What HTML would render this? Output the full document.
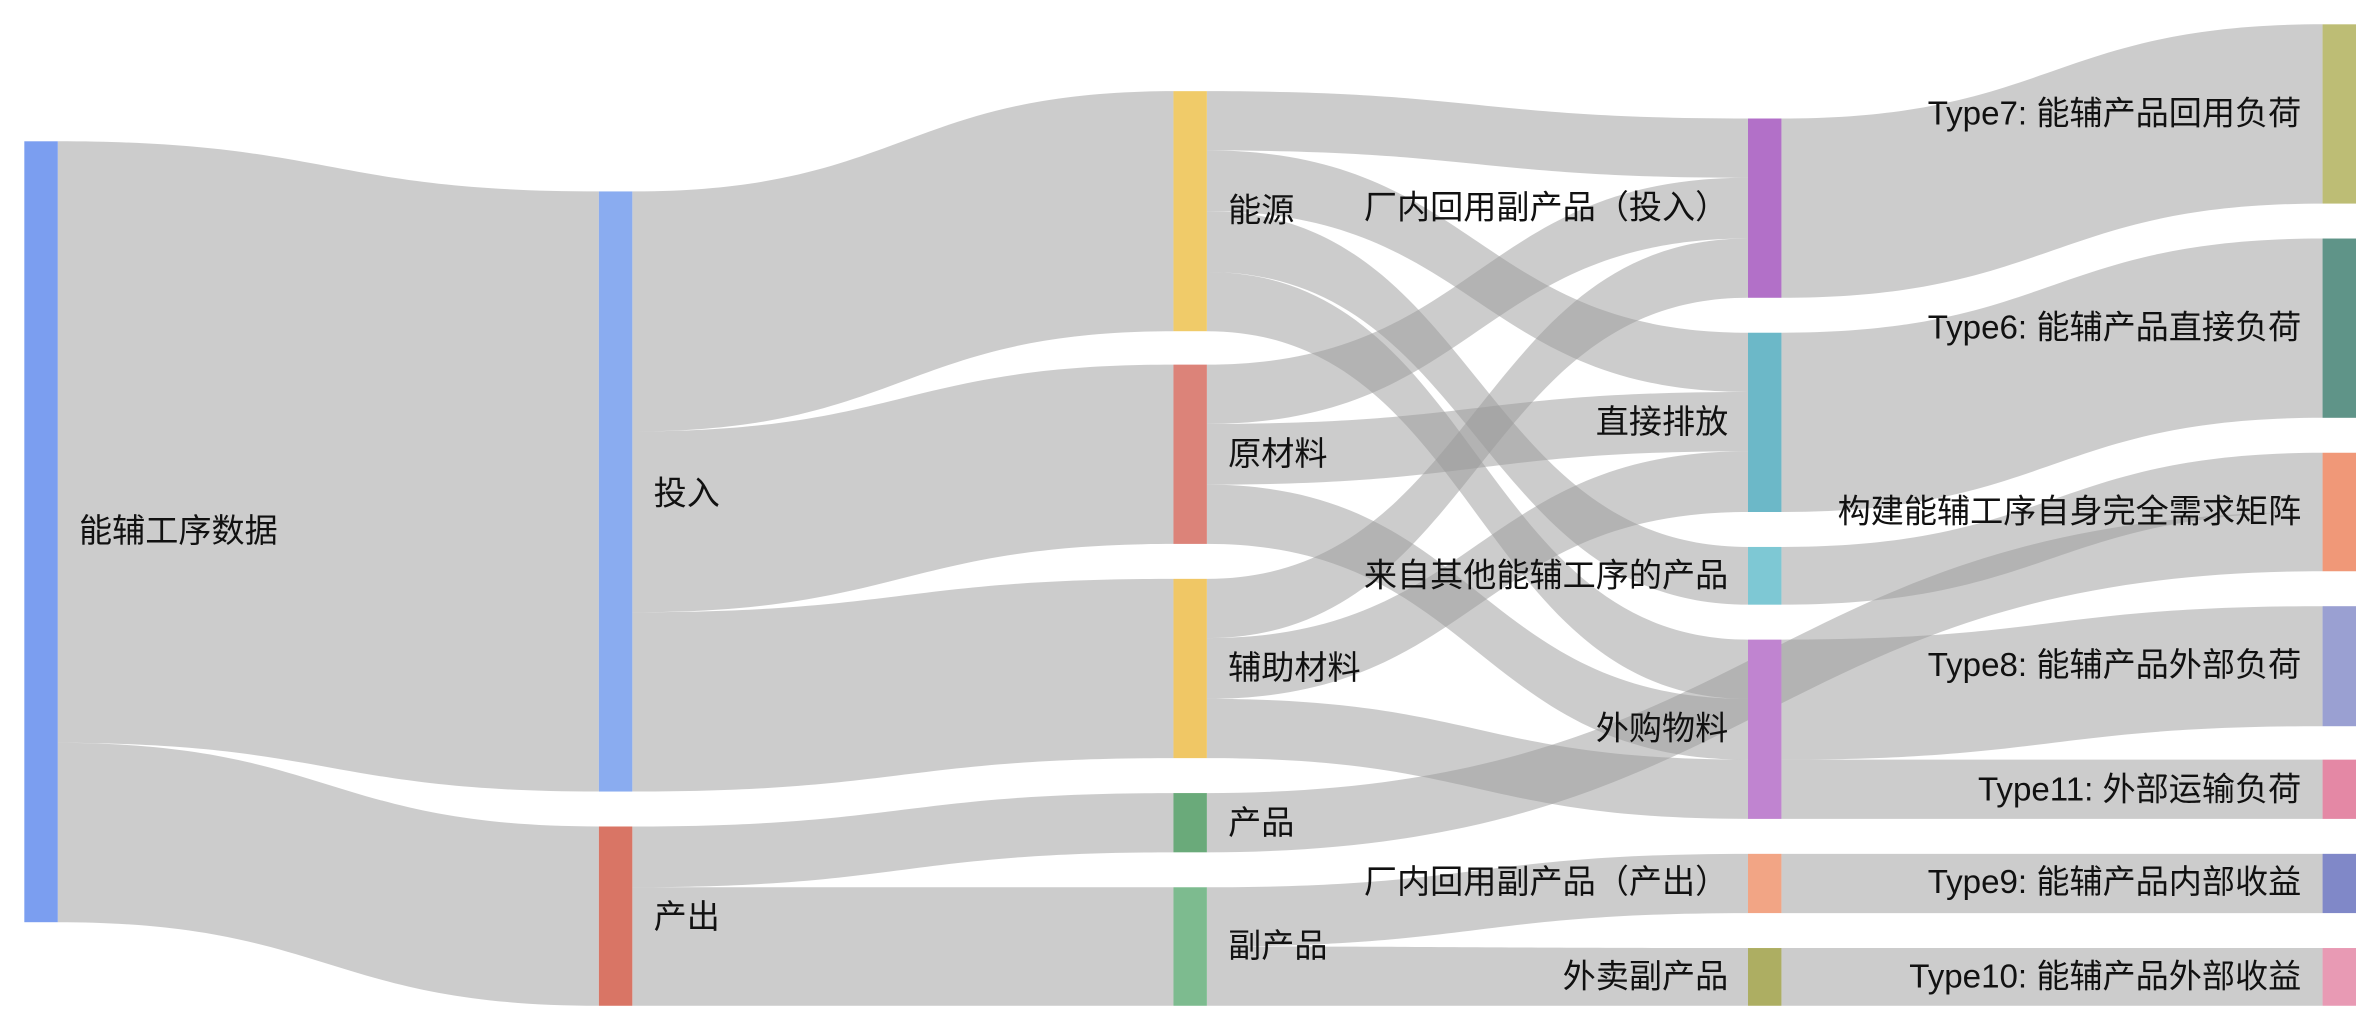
<!DOCTYPE html>
<html><head><meta charset="utf-8"><style>
html,body{margin:0;padding:0;background:#fff;}
svg{display:block;}
text{font-family:"Liberation Sans","Noto Sans CJK SC",sans-serif;font-size:21.8px;fill:#111;dominant-baseline:central;}
</style></head><body>
<svg width="2356" height="1024" viewBox="0 0 1550 674" preserveAspectRatio="none">
<g fill="#999" fill-opacity="0.5">
<path d="M38,93 C216,93 216,126 394,126 L394,521 C216,521 216,489 38,489Z"/>
<path d="M38,489 C216,489 216,544 394,544 L394,662 C216,662 216,607 38,607Z"/>
<path d="M416,126 C594,126 594,60 772,60 L772,218 C594,218 594,284 416,284Z"/>
<path d="M416,284 C594,284 594,240 772,240 L772,358 C594,358 594,403 416,403Z"/>
<path d="M416,403 C594,403 594,381 772,381 L772,499 C594,499 594,521 416,521Z"/>
<path d="M416,544 C594,544 594,522 772,522 L772,561 C594,561 594,584 416,584Z"/>
<path d="M416,584 C594,584 594,584 772,584 L772,662 C594,662 594,662 416,662Z"/>
<path d="M794,60 C972,60 972,78 1150,78 L1150,117 C972,117 972,99 794,99Z"/>
<path d="M794,99 C972,99 972,219 1150,219 L1150,258 C972,258 972,139 794,139Z"/>
<path d="M794,139 C972,139 972,360 1150,360 L1150,398 C972,398 972,179 794,179Z"/>
<path d="M794,179 C972,179 972,421 1150,421 L1150,460 C972,460 972,218 794,218Z"/>
<path d="M794,240 C972,240 972,117 1150,117 L1150,157 C972,157 972,279 794,279Z"/>
<path d="M794,279 C972,279 972,258 1150,258 L1150,297 C972,297 972,319 794,319Z"/>
<path d="M794,319 C972,319 972,460 1150,460 L1150,500 C972,500 972,358 794,358Z"/>
<path d="M794,381 C972,381 972,157 1150,157 L1150,196 C972,196 972,420 794,420Z"/>
<path d="M794,420 C972,420 972,297 1150,297 L1150,337 C972,337 972,460 794,460Z"/>
<path d="M794,460 C972,460 972,500 1150,500 L1150,539 C972,539 972,499 794,499Z"/>
<path d="M794,522 C1161,522 1161,337 1528,337 L1528,376 C1161,376 1161,561 794,561Z"/>
<path d="M794,584 C972,584 972,562 1150,562 L1150,601 C972,601 972,623 794,623Z"/>
<path d="M794,623 C972,623 972,624 1150,624 L1150,662 C972,662 972,662 794,662Z"/>
<path d="M1172,78 C1350,78 1350,16 1528,16 L1528,134 C1350,134 1350,196 1172,196Z"/>
<path d="M1172,219 C1350,219 1350,157 1528,157 L1528,275 C1350,275 1350,337 1172,337Z"/>
<path d="M1172,360 C1350,360 1350,298 1528,298 L1528,337 C1350,337 1350,398 1172,398Z"/>
<path d="M1172,421 C1350,421 1350,399 1528,399 L1528,478 C1350,478 1350,500 1172,500Z"/>
<path d="M1172,500 C1350,500 1350,500 1528,500 L1528,539 C1350,539 1350,539 1172,539Z"/>
<path d="M1172,562 C1350,562 1350,562 1528,562 L1528,601 C1350,601 1350,601 1172,601Z"/>
<path d="M1172,624 C1350,624 1350,624 1528,624 L1528,662 C1350,662 1350,662 1172,662Z"/>
</g>
<g>
<rect x="16" y="93" width="22" height="514" fill="#7b9ef0"/>
<rect x="394" y="126" width="22" height="395" fill="#8aacf0"/>
<rect x="394" y="544" width="22" height="118" fill="#d97565"/>
<rect x="772" y="60" width="22" height="158" fill="#f0cb69"/>
<rect x="772" y="240" width="22" height="118" fill="#dc8379"/>
<rect x="772" y="381" width="22" height="118" fill="#f0c765"/>
<rect x="772" y="522" width="22" height="39" fill="#6aaa7a"/>
<rect x="772" y="584" width="22" height="78" fill="#7dbb8f"/>
<rect x="1150" y="78" width="22" height="118" fill="#b270c8"/>
<rect x="1150" y="219" width="22" height="118" fill="#6cb8c8"/>
<rect x="1150" y="360" width="22" height="38" fill="#7ec8d4"/>
<rect x="1150" y="421" width="22" height="118" fill="#c084d0"/>
<rect x="1150" y="562" width="22" height="39" fill="#f2a585"/>
<rect x="1150" y="624" width="22" height="38" fill="#adae62"/>
<rect x="1528" y="16" width="22" height="118" fill="#bdbd75"/>
<rect x="1528" y="157" width="22" height="118" fill="#5f9488"/>
<rect x="1528" y="298" width="22" height="78" fill="#f09878"/>
<rect x="1528" y="399" width="22" height="79" fill="#9aa0d2"/>
<rect x="1528" y="500" width="22" height="39" fill="#e488a5"/>
<rect x="1528" y="562" width="22" height="39" fill="#8088c8"/>
<rect x="1528" y="624" width="22" height="38" fill="#e89ab4"/>
</g>
<g>
<text x="52" y="350">能辅工序数据</text>
<text x="430" y="325">投入</text>
<text x="430" y="604">产出</text>
<text x="808" y="139">能源</text>
<text x="808" y="299">原材料</text>
<text x="808" y="440">辅助材料</text>
<text x="808" y="542">产品</text>
<text x="808" y="623">副产品</text>
</g>
<g text-anchor="end">
<text x="1137" y="137">厂内回用副产品（投入）</text>
<text x="1137" y="278">直接排放</text>
<text x="1137" y="379">来自其他能辅工序的产品</text>
<text x="1137" y="480">外购物料</text>
<text x="1137" y="581">厂内回用副产品（产出）</text>
<text x="1137" y="643">外卖副产品</text>
<text x="1514" y="75">Type7: 能辅产品回用负荷</text>
<text x="1514" y="216">Type6: 能辅产品直接负荷</text>
<text x="1514" y="337">构建能辅工序自身完全需求矩阵</text>
<text x="1514" y="438">Type8: 能辅产品外部负荷</text>
<text x="1514" y="520">Type11: 外部运输负荷</text>
<text x="1514" y="581">Type9: 能辅产品内部收益</text>
<text x="1514" y="643">Type10: 能辅产品外部收益</text>
</g>
</svg>
</body></html>
